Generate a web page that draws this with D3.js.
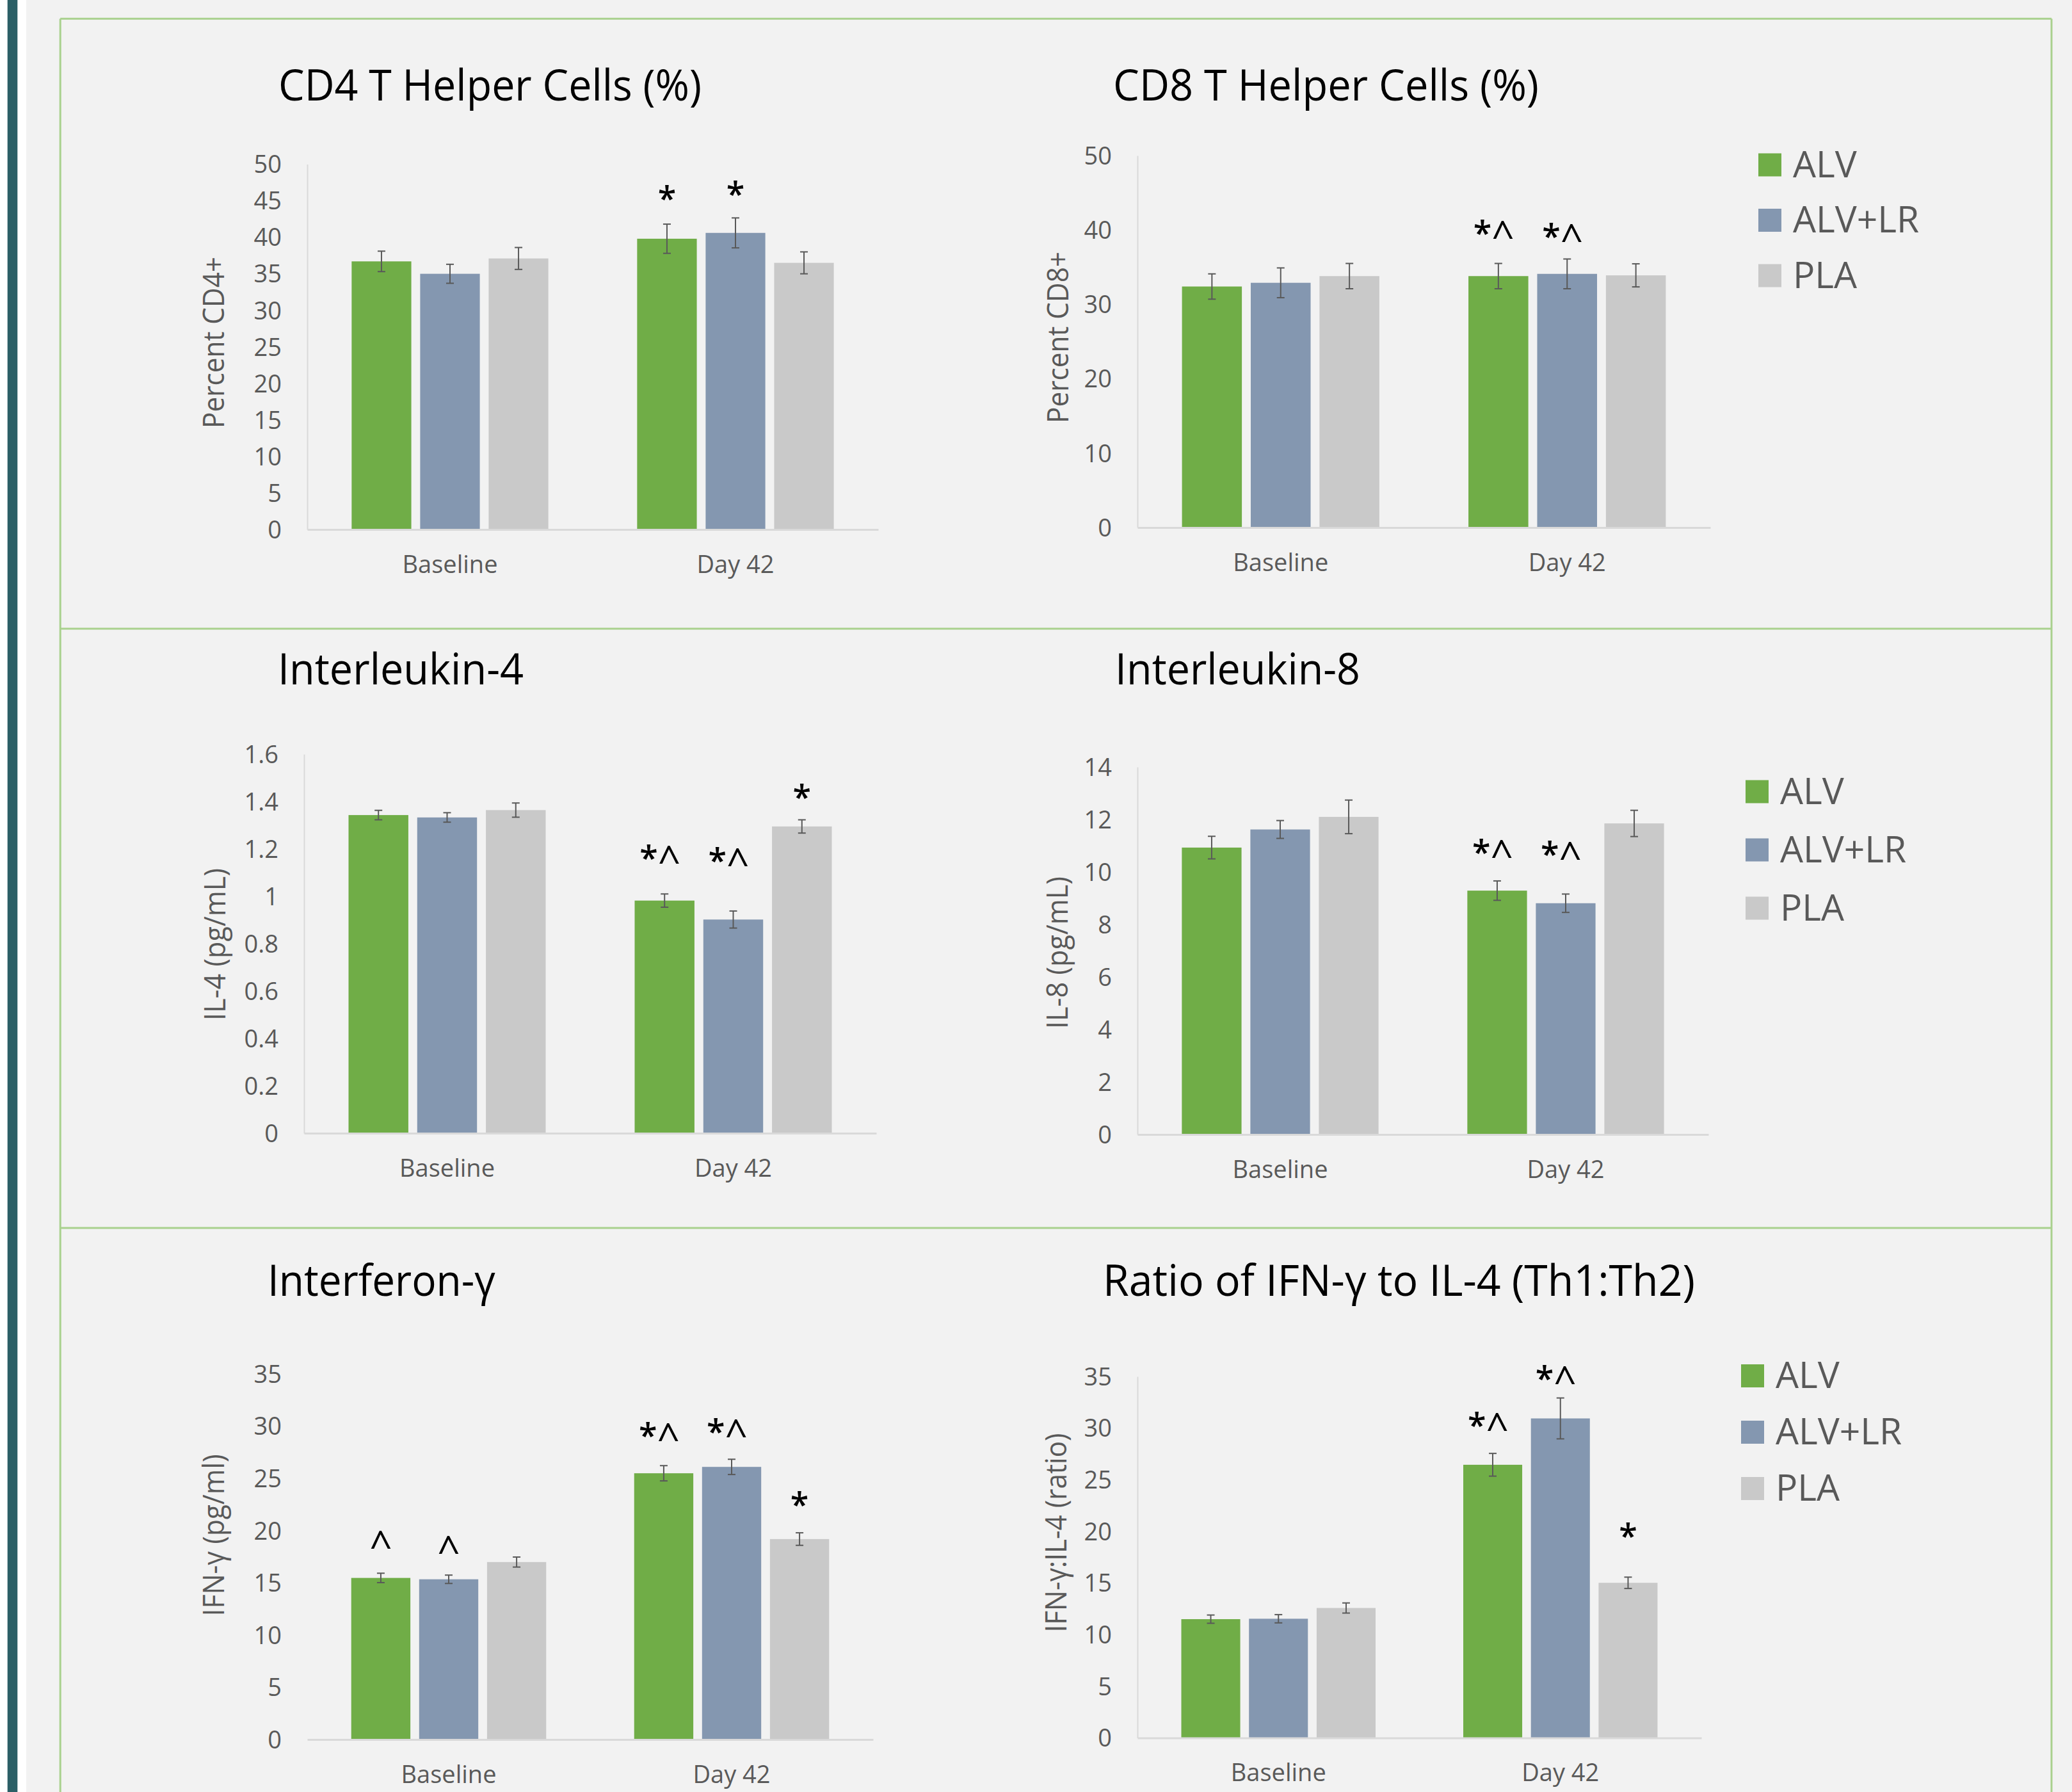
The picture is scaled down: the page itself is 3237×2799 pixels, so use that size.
<!DOCTYPE html>
<html><head><meta charset="utf-8">
<script src="https://cdn.jsdelivr.net/npm/d3@7/dist/d3.min.js"></script>
<style>html,body{margin:0;padding:0;background:#f2f2f2;} svg{display:block}</style>
</head><body>
<svg id="c" width="3237" height="2799"></svg>
<script>
// ---------- DATA ----------
const categories = ["Baseline", "Day 42"];
const seriesNames = ["ALV", "ALV+LR", "PLA"];
const seriesColors = ["#70ad47", "#8497b0", "#c9c9c9"];

// means: [series][category]
const cd4Mean = [[36.7, 39.8], [35.0, 40.6], [37.1, 36.5]];
const cd4Err  = [[1.4, 2.0], [1.3, 2.05], [1.5, 1.5]];
const cd8Mean = [[32.4, 33.8], [32.9, 34.1], [33.8, 33.9]];
const cd8Err  = [[1.7, 1.7], [2.0, 2.0], [1.7, 1.55]];
const il4Mean = [[1.343, 0.982], [1.333, 0.902], [1.364, 1.295]];
const il4Err  = [[0.02, 0.028], [0.02, 0.036], [0.03, 0.028]];
const il8Mean = [[10.93, 9.29], [11.62, 8.81], [12.10, 11.85]];
const il8Err  = [[0.43, 0.37], [0.34, 0.35], [0.64, 0.5]];
const ifnMean = [[15.47, 25.49], [15.34, 26.1], [16.99, 19.19]];
const ifnErr  = [[0.45, 0.73], [0.4, 0.73], [0.48, 0.6]];
const ratioMean = [[11.5, 26.45], [11.54, 30.94], [12.58, 15.02]];
const ratioErr  = [[0.4, 1.1], [0.4, 1.98], [0.49, 0.55]];

// tick labels
const cd4Ticks = [0, 5, 10, 15, 20, 25, 30, 35, 40, 45, 50];
const cd8Ticks = [0, 10, 20, 30, 40, 50];
const il4Ticks = [0, 0.2, 0.4, 0.6, 0.8, 1, 1.2, 1.4, 1.6];
const il8Ticks = [0, 2, 4, 6, 8, 10, 12, 14];
const ifnTicks = [0, 5, 10, 15, 20, 25, 30, 35];
const ratioTicks = [0, 5, 10, 15, 20, 25, 30, 35];

// significance marks: [seriesIndex, categoryIndex, label, level (value units where mark top sits)]
const cd4Marks = [[0, 1, "*", 47.0], [1, 1, "*", 47.6]];
const cd8Marks = [[0, 1, "*^", 41.3], [1, 1, "*^", 40.8]];
const il4Marks = [[0, 1, "*^", 1.215], [1, 1, "*^", 1.204], [2, 1, "*", 1.471]];
const il8Marks = [[0, 1, "*^", 11.24], [1, 1, "*^", 11.16]];
const ifnMarks = [[0, 0, "^", 20.0], [1, 0, "^", 19.5], [0, 1, "*^", 30.34], [1, 1, "*^", 30.7], [2, 1, "*", 23.7]];
const ratioMarks = [[0, 1, "*^", 31.5], [1, 1, "*^", 36.0], [2, 1, "*", 20.75]];

// ---------- LAYOUT ----------
const panels = [
  {title: "CD4 T Helper Cells (%)", yTitle: "Percent CD4+", mean: cd4Mean, err: cd4Err, ticks: cd4Ticks, marks: cd4Marks,
   tx: 435, ty: 157, tw: 661, ytx: 350, yty: 535, ytw: 268, x0: 480, x1: 1372, y0: 827, y1: 256.5, yLine: true, legend: null},
  {title: "CD8 T Helper Cells (%)", yTitle: "Percent CD8+", mean: cd8Mean, err: cd8Err, ticks: cd8Ticks, marks: cd8Marks,
   tx: 1739, ty: 157, tw: 665, ytx: 1669, yty: 527, ytw: 268, x0: 1777, x1: 2672, y0: 824, y1: 243, yLine: true,
   legend: {x: 2747, y: 239.5, dy: 86.5}},
  {title: "Interleukin-4", yTitle: "IL-4 (pg/mL)", mean: il4Mean, err: il4Err, ticks: il4Ticks, marks: il4Marks,
   tx: 434, ty: 1069, tw: 384, ytx: 352, yty: 1475, ytw: 238, x0: 475, x1: 1369, y0: 1770, y1: 1178, yLine: true, legend: null},
  {title: "Interleukin-8", yTitle: "IL-8 (pg/mL)", mean: il8Mean, err: il8Err, ticks: il8Ticks, marks: il8Marks,
   tx: 1742, ty: 1069, tw: 383, ytx: 1668, yty: 1488, ytw: 238, x0: 1777, x1: 2669, y0: 1772, y1: 1198, yLine: true,
   legend: {x: 2727, y: 1218.5, dy: 91}},
  {title: "Interferon-\u03b3", yTitle: "IFN-\u03b3 (pg/ml)", mean: ifnMean, err: ifnErr, ticks: ifnTicks, marks: ifnMarks,
   tx: 418, ty: 2024, tw: 356, ytx: 350, yty: 2398, ytw: 253, x0: 480, x1: 1364, y0: 2717, y1: 2146, yLine: false, legend: null},
  {title: "Ratio of IFN-\u03b3 to IL-4 (Th1:Th2)", yTitle: "IFN-\u03b3:IL-4 (ratio)", mean: ratioMean, err: ratioErr, ticks: ratioTicks, marks: ratioMarks,
   tx: 1723, ty: 2024, tw: 925, ytx: 1666, yty: 2394, ytw: 311, x0: 1777, x1: 2658, y0: 2714.5, y1: 2150, yLine: true,
   legend: {x: 2720, y: 2131, dy: 88}}
];

const FONT = "'Open Sans', 'Noto Sans', sans-serif";
const GREY_TXT = "#595959";

const svg = d3.select("#c");
const W = 3237, H = 2799;

// background + left decoration
svg.append("rect").attr("width", W).attr("height", H).attr("fill", "#f2f2f2");
svg.append("rect").attr("x", 0).attr("y", 0).attr("width", 41).attr("height", H).attr("fill", "#ffffff");
svg.append("rect").attr("x", 11.7).attr("y", 0).attr("width", 15.6).attr("height", H).attr("fill", "#2b5f66");

// green frame
const frame = svg.append("g").attr("stroke", "#a9d18e").attr("stroke-width", 3).attr("fill", "none");
frame.append("line").attr("x1", 94.2).attr("x2", 3205).attr("y1", 29.2).attr("y2", 29.2);
frame.append("line").attr("x1", 94.2).attr("x2", 94.2).attr("y1", 29.2).attr("y2", H);
frame.append("line").attr("x1", 3205).attr("x2", 3205).attr("y1", 29.2).attr("y2", H);
frame.append("line").attr("x1", 94.2).attr("x2", 3205).attr("y1", 982).attr("y2", 982);
frame.append("line").attr("x1", 94.2).attr("x2", 3205).attr("y1", 1918).attr("y2", 1918);

panels.forEach(p => {
  const g = svg.append("g");
  const x = d3.scaleBand().domain(categories).range([p.x0, p.x1]).paddingInner(0).paddingOuter(0);
  const yMax = p.ticks[p.ticks.length - 1];
  const y = d3.scaleLinear().domain([0, yMax]).range([p.y0, p.y1]);
  const bw = x.bandwidth();
  const barW = bw * 0.209, step = bw * 0.24;
  const barX = (si, ci) => x(categories[ci]) + bw / 2 + (si - 1) * step - barW / 2;

  // title
  g.append("text").attr("x", p.tx).attr("y", p.ty).text(p.title)
    .attr("font-family", FONT).attr("font-size", 68).attr("fill", "#000")
    .attr("textLength", p.tw).attr("lengthAdjust", "spacingAndGlyphs");

  // y axis
  const yAxis = d3.axisLeft(y).tickValues(p.ticks).tickSize(0).tickSizeOuter(0).tickPadding(40)
    .tickFormat(d => String(d));
  const ya = g.append("g").attr("transform", `translate(${p.x0},0)`).call(yAxis);
  ya.selectAll("text").attr("font-family", FONT).attr("font-size", 38).attr("fill", GREY_TXT).attr("dy", "0.35em");
  ya.select(".domain").attr("stroke", p.yLine ? "#d9d9d9" : "none").attr("stroke-width", 2);

  // bars
  seriesNames.forEach((s, si) => {
    g.append("g").selectAll("rect").data(categories).join("rect")
      .attr("x", (c, ci) => barX(si, ci))
      .attr("y", (c, ci) => y(p.mean[si][ci]))
      .attr("width", barW)
      .attr("height", (c, ci) => y(0) - y(p.mean[si][ci]))
      .attr("fill", seriesColors[si]);
  });

  // x axis
  const xAxis = d3.axisBottom(x).tickSize(0).tickSizeOuter(0).tickPadding(41);
  const xa = g.append("g").attr("transform", `translate(0,${p.y0})`).call(xAxis);
  xa.selectAll("text").attr("font-family", FONT).attr("font-size", 38).attr("fill", GREY_TXT);
  xa.select(".domain").attr("stroke", "#d9d9d9").attr("stroke-width", 3);

  // error bars
  const eg = g.append("g").attr("stroke", "#595959").attr("stroke-width", 2).attr("fill", "none");
  seriesNames.forEach((s, si) => {
    categories.forEach((c, ci) => {
      const cx = barX(si, ci) + barW / 2;
      const hi = y(p.mean[si][ci] + p.err[si][ci]);
      const lo = y(p.mean[si][ci] - p.err[si][ci]);
      eg.append("line").attr("x1", cx).attr("x2", cx).attr("y1", hi).attr("y2", lo);
      eg.append("line").attr("x1", cx - 6).attr("x2", cx + 6).attr("y1", hi).attr("y2", hi);
      eg.append("line").attr("x1", cx - 6).attr("x2", cx + 6).attr("y1", lo).attr("y2", lo);
    });
  });

  // significance marks
  const mk = g.append("g").selectAll("text").data(p.marks).join("text")
    .attr("x", d => barX(d[0], d[1]) + barW / 2 - (d[2].length > 1 ? 7 : 0))
    .attr("y", d => y(d[3]) + 0.74 * 52)
    .attr("text-anchor", "middle")
    .attr("font-family", FONT).attr("font-size", 52).attr("font-weight", 600).attr("fill", "#000");
  mk.each(function (d) {
    const t = d3.select(this);
    d[2].split("").forEach(ch => {
      const ts = t.append("tspan").text(ch);
      if (ch === "^") ts.attr("font-size", 62).attr("font-weight", 500).attr("dy", 7);
    });
  });

  // y title
  g.append("text").attr("transform", `translate(${p.ytx},${p.yty}) rotate(-90)`)
    .attr("text-anchor", "middle").text(p.yTitle)
    .attr("font-family", FONT).attr("font-size", 45).attr("fill", GREY_TXT)
    .attr("textLength", p.ytw).attr("lengthAdjust", "spacingAndGlyphs");

  // legend
  if (p.legend) {
    const lg = g.append("g");
    seriesNames.forEach((s, si) => {
      const ly = p.legend.y + si * p.legend.dy;
      lg.append("rect").attr("x", p.legend.x).attr("y", ly).attr("width", 36).attr("height", 36).attr("fill", seriesColors[si]);
      lg.append("text").attr("x", p.legend.x + 54).attr("y", ly + 37).text(s)
        .attr("font-family", FONT).attr("font-size", 57).attr("fill", GREY_TXT);
    });
  }
});
</script>
</body></html>
